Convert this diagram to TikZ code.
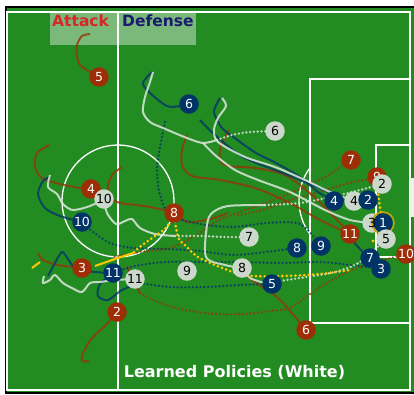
\documentclass[tikz,border=0pt]{standalone}
\usepackage{fontspec}
\setmainfont{DejaVu Sans}
\usetikzlibrary{shapes.geometric, arrows}

\definecolor{pitchgreen}{RGB}{34,139,34}
\definecolor{atkred}{RGB}{158,46,6}
\definecolor{atkline}{RGB}{150,55,10}
\definecolor{dfnblue}{RGB}{0,51,102}
\definecolor{dfnline}{RGB}{5,55,105}
\definecolor{lrngray}{RGB}{205,216,205}
\definecolor{lrnline}{RGB}{222,230,222}
\definecolor{ballyellow}{RGB}{255,200,0}
\definecolor{titlered}{RGB}{214,39,40}
\definecolor{titleblue}{RGB}{25,25,112}

\tikzstyle{player} = [circle, minimum size=19.5pt, inner sep=0pt, font=\fontsize{12.5}{12.5}\selectfont]
\tikzstyle{atk} = [player, fill=atkred, text=white]
\tikzstyle{dfn} = [player, fill=dfnblue, text=white]
\tikzstyle{lrn} = [player, fill=lrngray, text=black]
\tikzstyle{pitchline} = [draw=white, line width=1.3pt]
\tikzstyle{atktrack} = [draw=atkline, line width=2pt, opacity=0.8]
\tikzstyle{atkdots} = [atktrack, line cap=round, dash pattern=on 0pt off 3.8pt, line width=2.6pt]
\tikzstyle{dfntrack} = [draw=dfnline, line width=2pt, opacity=0.8]
\tikzstyle{dfndots} = [dfntrack, line cap=round, dash pattern=on 0pt off 3.8pt, line width=2.6pt]
\tikzstyle{lrntrack} = [draw=lrnline, line width=2pt, opacity=0.85]
\tikzstyle{lrndots} = [lrntrack, line cap=round, dash pattern=on 0pt off 3.8pt, line width=2.6pt]
\tikzstyle{balltrack} = [draw=ballyellow, line width=2pt]
\tikzstyle{balldots} = [balltrack, line cap=round, dash pattern=on 0pt off 4.4pt, line width=3pt]

\pgfdeclarelayer{pitch}
\pgfdeclarelayer{tracks}
\pgfsetlayers{pitch,tracks,main}

\begin{document}
\begin{tikzpicture}[x=1pt, y=-1pt]
\useasboundingbox (0,0) rectangle (414,394);

% the pitch
\begin{pgfonlayer}{pitch}
\fill[white] (0,0) rectangle (414,394);
\fill[pitchgreen] (6,7) rectangle (414,393);
\draw[black, line width=1.2pt] (414,7) -- (6,7) -- (6,393) -- (414,393);
\draw[pitchline] (7,12) rectangle (410,390);
\draw[pitchline] (118,12) -- (118,390);
\draw[pitchline] (118,201) circle (56pt);
\draw[pitchline] (410,79) -- (310,79) -- (310,323) -- (410,323);
\draw[pitchline] (410,145) -- (376,145) -- (376,257) -- (410,257);
\draw[pitchline] (310,167.7) arc[start angle=143.5, end angle=216.5, radius=56pt];
\fill[white!90!pitchgreen] (410,178) rectangle (414,217);
\fill[white, opacity=0.4] (50,12) rectangle (196,45);
\end{pgfonlayer}

\node (atitle) [anchor=base west, inner sep=0pt, text=titlered, font=\fontsize{15.5}{16}\selectfont\bfseries] at (52,26) {Attack};
\node (dtitle) [anchor=base west, inner sep=0pt, text=titleblue, font=\fontsize{15.5}{16}\selectfont\bfseries] at (122,26) {Defense};
\node (caption) [anchor=base, inner sep=0pt, text=white, font=\fontsize{16}{16}\selectfont\bfseries] at (234.5,377) {Learned Policies (White)};

% attack
\node (a5) [atk] at (99,77) {5};
\node (a4) [atk] at (91,189) {4};
\node (a8) [atk] at (174,213) {8};
\node (a3) [atk] at (82,268) {3};
\node (a2) [atk] at (117,312) {2};
\node (a7) [atk] at (351,160) {7};
\node (a9) [atk] at (377,177) {9};
\node (a11) [atk] at (350,234) {11};
\node (a10) [atk] at (406,254) {10};
\node (a6) [atk] at (306,330) {6};

% learned (white)
\node (w6) [lrn] at (275,131) {6};
\node (w10) [lrn] at (104,199) {10};
\node (w4) [lrn] at (354,201) {4};
\node (w2) [lrn] at (382,184) {2};
\node (w3) [lrn] at (372,223) {};
\node (w7) [lrn] at (249,237) {7};
\node (w8) [lrn] at (242,268) {8};
\node (w9) [lrn] at (187,271) {9};
\node (w11) [lrn] at (135,279) {11};

% defense
\node (d6) [dfn] at (189,104) {6};
\node (d10) [dfn] at (82,222) {10};
\node (d11) [dfn] at (113,273) {11};
\node (d4) [dfn] at (334,201) {4};
\node (d2) [dfn] at (368,200) {2};
\node (d8) [dfn] at (297,248) {8};
\node (d9) [dfn] at (321,246) {9};
\node (d7) [dfn] at (370,258) {7};
\node (d3) [dfn] at (381,269) {3};
\node (d5) [dfn] at (272,284) {5};
\node (d1) [dfn] at (383,223) {1};
\draw[draw=ballyellow!80!black, line width=1.5pt] (d1) circle (11pt);
\node (w3num) [player, text=black, minimum size=0pt] at (w3) {3};
\node (w5) [lrn] at (386,239) {5};

\begin{pgfonlayer}{tracks}
% attack tracks
\draw[atktrack] plot[smooth] coordinates {(90,34) (82,36) (77,45) (77,56) (81,66) (a5.center)};
\draw[atktrack] plot[smooth] coordinates {(49,145) (37,153) (35,167) (42,178) (60,184) (80,188) (a4.center)};
\draw[atktrack] plot[smooth] coordinates {(122,167) (113,174) (108,185) (110,197) (120,203) (137,205) (155,208) (a8.center)};
\draw[atktrack] plot[smooth] coordinates {(a8.center) (188,222) (210,219) (228,213)};
\draw[atktrack] plot[smooth] coordinates {(187,135) (182,150) (182,165) (192,176) (220,180) (255,188) (290,203) (320,220) (a11.center)};
\draw[atktrack] plot[smooth] coordinates {(229,130) (221,146) (220,160) (228,166) (255,168) (285,175) (312,195) (335,218) (a11.center)};
\draw[atktrack] plot[smooth] coordinates {(38,253) (43,260) (58,265) (a3.center)};
\draw[atktrack] plot[smooth] coordinates {(a2.center) (106,325) (92,338) (83,353) (82,361) (89,361)};
\draw[atktrack] plot[smooth] coordinates {(a6.center) (291,312) (277,297) (262,287) (248,277) (238,270)};
\draw[atktrack] plot[smooth] coordinates {(127,266) (133,280) (140,293)};
\draw[atkdots] plot[smooth] coordinates {(140,293) (160,303) (185,310) (215,314) (245,314) (270,311) (290,308) (310,294) (332,280) (352,270) (375,262) (395,257) (a10.center)};
\draw[atkdots] plot[smooth] coordinates {(a7.center) (327,176) (300,189) (268,202) (240,212) (215,222) (195,236) (170,248) (140,252) (113,257)};
\draw[atkdots] plot[smooth] coordinates {(a9.center) (345,184) (316,193) (290,200) (262,210) (235,216)};

% defense tracks
\draw[dfntrack] plot[smooth] coordinates {(152,72) (143,83) (150,93) (167,106) (180,106) (d6.center)};
\draw[dfntrack] plot[smooth] coordinates {(50,177) (43,181) (38,194) (45,208) (60,216) (d10.center)};
\draw[dfntrack] plot[smooth] coordinates {(48,276) (55,263) (62,252) (68,259) (76,269) (95,272) (d11.center)};
\draw[dfntrack] plot[smooth] coordinates {(d11.center) (100,284) (98,296) (108,300) (122,290) (140,283)};
\draw[dfntrack] plot[smooth] coordinates {(220,98) (214,112) (222,128) (236,139) (256,153) (276,163) (300,177) (318,192) (d4.center)};
\draw[dfntrack] plot[smooth] coordinates {(200,120) (215,135) (243,157) (283,173) (317,187) (343,199) (357,208) (d2.center)};
\draw[dfntrack] plot[smooth] coordinates {(a11.center) (352,240) (362,251) (d7.center)};
\draw[dfndots] plot[smooth] coordinates {(165,122) (160,147) (157,170) (160,195) (170,215) (200,224) (233,227) (267,223) (300,224) (d9.center)};
\draw[dfndots] plot[smooth] coordinates {(d10.center) (93,232) (110,243) (133,248) (167,249) (200,251) (233,255) (265,252) (d8.center)};
\draw[dfndots] plot[smooth] coordinates {(d11.center) (135,266) (165,262) (200,262) (240,262) (280,263) (320,262) (350,265) (d3.center)};
\draw[dfndots] plot[smooth] coordinates {(140,283) (170,287) (205,287) (240,285) (d5.center)};

% learned tracks
\draw[lrntrack] plot[smooth] coordinates {(50,175) (48,187) (57,194) (63,204) (73,210) (90,206) (w10.center)};
\draw[lrntrack] plot[smooth] coordinates {(w10.center) (107,213) (116,224) (125,221) (132,219) (140,228) (155,234) (175,236)};
\draw[lrndots] plot[smooth] coordinates {(175,236) (200,236) (225,237) (w7.center)};
\draw[lrntrack] plot[smooth] coordinates {(153,72) (150,82) (145,97) (143,112) (150,122) (163,128) (187,138) (203,143) (217,140)};
\draw[lrndots] plot[smooth] coordinates {(217,140) (232,135) (250,132) (w6.center)};
\draw[lrntrack] plot[smooth] coordinates {(222,98) (226,106) (218,118) (214,130) (218,142) (245,157) (275,167) (305,180) (330,192) (w4.center)};
\draw[lrntrack] plot[smooth] coordinates {(203,143) (215,155) (235,170) (258,180) (290,192) (325,210) (350,220) (w3.center)};
\draw[lrntrack] plot[smooth] coordinates {(w8.center) (225,265) (206,257) (207,225) (212,213) (228,206) (265,205)};
\draw[lrndots] plot[smooth] coordinates {(265,205) (300,203) (335,196) (360,190) (w2.center)};
\draw[lrntrack] plot[smooth] coordinates {(w8.center) (250,278) (265,283)};
\draw[lrndots] plot[smooth] coordinates {(265,283) (300,278) (335,272) (360,262) (w5.center)};
\draw[lrntrack] plot[smooth] coordinates {(w11.center) (115,280) (100,282) (90,283) (82,292) (72,288) (63,283) (55,275) (50,280) (43,283) (44,276)};

% ball
\draw[balltrack] (32,268) -- (40,262);
\fill[ballyellow] (77,264) circle (1.6pt);
\draw[balldots] plot[smooth] coordinates {(a8.center) (166,228) (152,238) (141,246) (133,253)};
\draw[balltrack] plot[smooth] coordinates {(133,253) (115,259) (95,266)};
\draw[balldots] plot[smooth] coordinates {(a8.center) (178,237) (187,247) (198,257) (215,265) (233,272) (252,276) (285,276) (320,274) (350,270)};
\draw[balldots] plot[smooth] coordinates {(a9.center) (378,192) (380,207) (d1.center)};
\fill[ballyellow] (373,241) circle (1.6pt);
\end{pgfonlayer}
\end{tikzpicture}
\end{document}
